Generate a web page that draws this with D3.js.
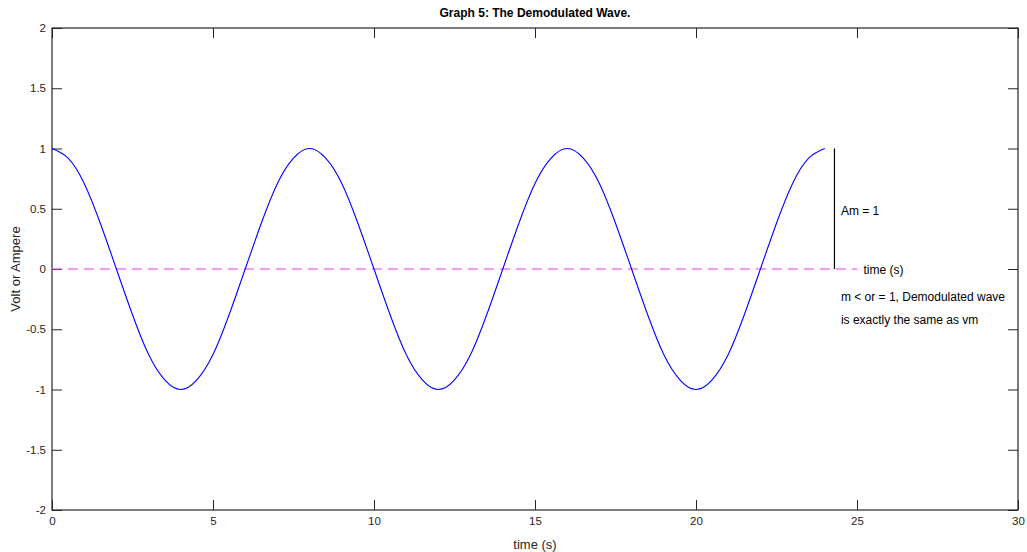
<!DOCTYPE html>
<html><head><meta charset="utf-8">
<script src="https://cdn.jsdelivr.net/npm/d3@7"></script>
<style>body{margin:0;background:#fff}svg{display:block;font-family:"Liberation Sans",Arial,sans-serif}</style>
</head><body><svg id="c" width="1027" height="552"></svg>
<script>
const timeValues = [0,0.5,1,1.5,2,2.5,3,3.5,4,4.5,5,5.5,6,6.5,7,7.5,8,8.5,9,9.5,10,10.5,11,11.5,12,12.5,13,13.5,14,14.5,15,15.5,16,16.5,17,17.5,18,18.5,19,19.5,20,20.5,21,21.5,22,22.5,23,23.5,24];
const waveValues = [1,0.92,0.71,0.38,0,-0.38,-0.71,-0.92,-1,-0.92,-0.71,-0.38,0,0.38,0.71,0.92,1,0.92,0.71,0.38,0,-0.38,-0.71,-0.92,-1,-0.92,-0.71,-0.38,0,0.38,0.71,0.92,1,0.92,0.71,0.38,0,-0.38,-0.71,-0.92,-1,-0.92,-0.71,-0.38,0,0.38,0.71,0.92,1];
const baselineX = [0,25];
const baselineY = [0,0];
const amLineX = [24.3,24.3];
const amLineY = [1,0];
const xTicks = [0,5,10,15,20,25,30];
const yTicks = [-2,-1.5,-1,-0.5,0,0.5,1,1.5,2];
const titleText = "Graph 5: The Demodulated Wave.";
const xLabel = "time (s)";
const yLabel = "Volt or Ampere";
const notes = [
  {x:24.5, y:0.48, t:"Am = 1"},
  {x:25.2, y:-0.01, t:"time (s)"},
  {x:24.5, y:-0.23, t:"m < or = 1, Demodulated wave"},
  {x:24.5, y:-0.425, t:"is exactly the same as vm"}
];

const svg = d3.select("#c");
const L=52, R=1018, T=28, B=510;
const x = d3.scaleLinear().domain([0,30]).range([L,R]);
const y = d3.scaleLinear().domain([-2,2]).range([B,T]);
const axCol = "#262626";
const fmt = d => String(d);

svg.append("rect").attr("x",L).attr("y",T).attr("width",R-L).attr("height",B-T)
  .attr("fill","none").attr("stroke",axCol).attr("stroke-width",1.2);

function styleAxis(g, hideText){
  g.select(".domain").remove();
  g.selectAll("line").attr("stroke",axCol).attr("stroke-width",1);
  g.selectAll("text").attr("fill",axCol).attr("font-size","11.5px");
  if(hideText) g.selectAll("text").remove();
}
svg.append("g").attr("transform",`translate(0,${B})`)
  .call(d3.axisBottom(x).tickValues(xTicks).tickSize(-10).tickPadding(7).tickFormat(fmt))
  .call(g=>styleAxis(g,false));
svg.append("g").attr("transform",`translate(0,${T})`)
  .call(d3.axisTop(x).tickValues(xTicks).tickSize(-10))
  .call(g=>styleAxis(g,true));
svg.append("g").attr("transform",`translate(${L},0)`)
  .call(d3.axisLeft(y).tickValues(yTicks).tickSize(-10).tickPadding(6).tickFormat(fmt))
  .call(g=>styleAxis(g,false));
svg.append("g").attr("transform",`translate(${R},0)`)
  .call(d3.axisRight(y).tickValues(yTicks).tickSize(-10))
  .call(g=>styleAxis(g,true));

svg.append("path").datum(baselineX.map((d,i)=>[d,baselineY[i]]))
  .attr("d",d3.line().x(d=>x(d[0])).y(d=>y(d[1])))
  .attr("stroke","#f03cf0").attr("stroke-width",1.2).attr("stroke-dasharray","10,6").attr("fill","none");

const pts = timeValues.map((t,i)=>[t,waveValues[i]]);
svg.append("path").datum(pts)
  .attr("d",d3.line().x(d=>x(d[0])).y(d=>y(d[1])).curve(d3.curveNatural))
  .attr("stroke","#0000ff").attr("stroke-width",1.1).attr("fill","none");

svg.append("path").datum(amLineX.map((d,i)=>[d,amLineY[i]]))
  .attr("d",d3.line().x(d=>x(d[0])).y(d=>y(d[1])))
  .attr("stroke","#000").attr("stroke-width",1.2).attr("fill","none");

notes.forEach(n=>{
  svg.append("text").attr("x",x(n.x)).attr("y",y(n.y)).attr("dy","0.35em")
    .attr("font-size","12px").attr("fill","#000").text(n.t);
});

svg.append("text").attr("x",(L+R)/2).attr("y",17).attr("text-anchor","middle")
  .attr("font-size","12px").attr("font-weight","bold").attr("fill","#000").text(titleText);
svg.append("text").attr("x",(L+R)/2).attr("y",549).attr("text-anchor","middle")
  .attr("font-size","13px").attr("fill",axCol).text(xLabel);
svg.append("text").attr("transform",`translate(20,${(T+B)/2}) rotate(-90)`).attr("text-anchor","middle")
  .attr("font-size","13px").attr("fill",axCol).text(yLabel);
</script></body></html>
